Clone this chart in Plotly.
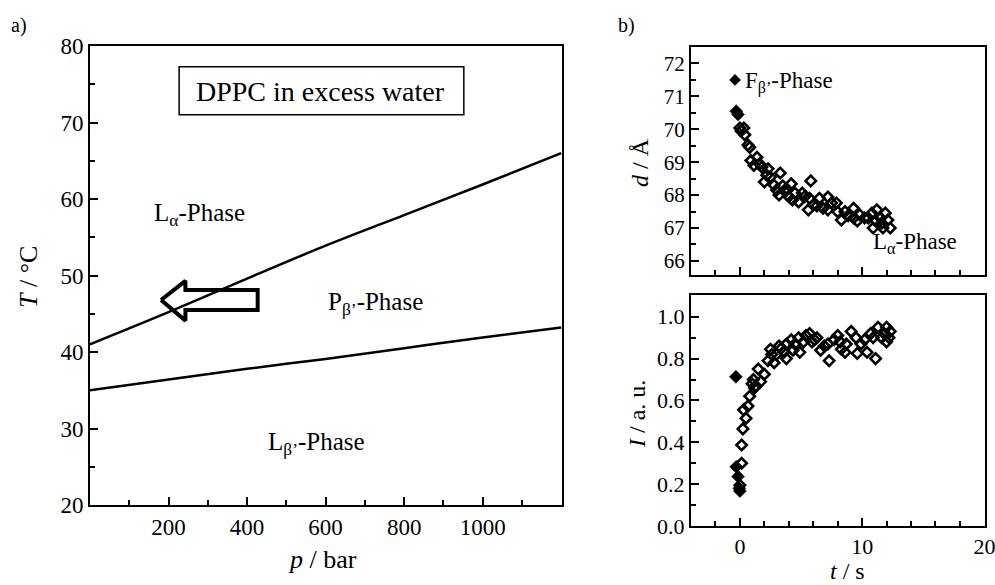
import plotly.graph_objects as go

# ---------- data ----------
# panel a: phase boundaries (p in bar, T in degC)
p_bound = [0, 200, 400, 600, 800, 1000, 1200]
T_upper = [41.0, 45.2, 49.6, 53.9, 57.9, 61.9, 66.0]
T_lower = [35.0, 36.4, 37.8, 39.1, 40.5, 41.9, 43.2]

# arrow outline (p, T)
arrow_p = [181, 243, 243, 427, 427, 243, 243, 181]
arrow_T = [46.8, 49.3, 48.1, 48.1, 45.5, 45.5, 44.1, 46.8]

# panel b (top): lamellar d-spacing
d_fill_t = [-0.3, -0.15]
d_fill_d = [70.55, 70.45]
d_open_t = [0.0, 0.33, 0.4, 0.1, 0.66, 0.8, 0.9, 1.4, 1.15, 1.8, 2.3, 3.3, 2.0, 2.5,
            2.8, 3.0, 3.5, 4.2, 4.0, 4.5, 5.1, 4.8, 5.7, 5.6, 5.8, 6.5, 6.3, 7.2, 7.5,
            7.2, 7.9, 8.0, 8.3, 8.85, 9.3, 9.3, 9.6, 9.8, 10.5, 10.8, 11.1, 11.2, 11.5,
            11.6, 11.9, 12.1, 11.7, 12.3, 10.9, 1.6, 2.2, 3.2, 3.7, 4.3, 5.3, 6.0, 6.8,
            8.6, 10.2, 3.8]
d_open_d = [70.04, 70.04, 69.83, 69.95, 69.52, 69.45, 69.05, 69.15, 68.9, 68.85, 68.8,
            68.67, 68.4, 68.55, 68.3, 68.15, 68.28, 68.34, 67.95, 68.06, 68.06, 67.79,
            67.9, 67.55, 68.43, 67.9, 67.67, 67.94, 67.76, 67.55, 67.76, 67.49, 67.24,
            67.37, 67.6, 67.3, 67.21, 67.4, 67.3, 67.45, 67.21, 67.55, 67.3, 67.15,
            67.45, 67.24, 67.0, 67.0, 67.0, 68.95, 68.6, 68.0, 68.1, 67.85, 67.95,
            67.7, 67.6, 67.5, 67.3, 68.2]
d_leg_t = [-0.4]
d_leg_d = [71.5]

# panel b (bottom): intensity
I_fill_t = [-0.33, -0.3, -0.15, 0.0, -0.05]
I_fill_I = [0.713, 0.283, 0.236, 0.167, 0.18]
I_open_t = [0.0, 0.14, 0.14, 0.25, 0.3, 0.5, 0.66, 0.8, 1.0, 1.2, 1.5, 1.7, 2.0, 2.3,
            2.5, 2.8, 3.0, 3.4, 3.8, 3.8, 4.35, 4.2, 4.8, 4.9, 5.4, 5.7, 5.9, 6.3, 6.6,
            7.2, 7.3, 7.7, 8.0, 8.3, 8.7, 8.6, 9.1, 9.5, 9.6, 10.2, 10.4, 10.7, 11.1,
            11.3, 11.6, 12.0, 12.2, 12.0, 1.1, 2.6, 3.2, 4.5, 5.2, 6.1, 6.9, 8.2, 9.9,
            10.9, 11.8, 12.3, 3.6, 1.3]
I_open_I = [0.195, 0.30, 0.387, 0.464, 0.555, 0.515, 0.573, 0.62, 0.68, 0.66, 0.75,
            0.69, 0.725, 0.79, 0.845, 0.78, 0.82, 0.85, 0.80, 0.87, 0.84, 0.89, 0.90,
            0.83, 0.91, 0.92, 0.88, 0.90, 0.84, 0.87, 0.79, 0.89, 0.91, 0.845, 0.87,
            0.83, 0.93, 0.90, 0.825, 0.89, 0.83, 0.92, 0.80, 0.95, 0.90, 0.95, 0.90,
            0.88, 0.70, 0.82, 0.86, 0.87, 0.88, 0.89, 0.86, 0.88, 0.87, 0.90, 0.92,
            0.93, 0.83, 0.67]

# tick labels
a_xticks = [200, 400, 600, 800, 1000]
a_yticks = [20, 30, 40, 50, 60, 70, 80]
b_xticks = [0, 10, 20]
b_dticks = [66, 67, 68, 69, 70, 71, 72]
b_Iticks = [0.0, 0.2, 0.4, 0.6, 0.8, 1.0]
b_Itext = ["0.0", "0.2", "0.4", "0.6", "0.8", "1.0"]

# ---------- figure ----------
W, H = 995, 585
FONT = "Liberation Serif, Times New Roman, serif"
fig = go.Figure()

fig.add_trace(go.Scatter(x=p_bound, y=T_upper, mode="lines",
                         line=dict(color="black", width=2.5, shape="spline"),
                         xaxis="x", yaxis="y"))
fig.add_trace(go.Scatter(x=p_bound, y=T_lower, mode="lines",
                         line=dict(color="black", width=2.5, shape="spline"),
                         xaxis="x", yaxis="y"))
fig.add_trace(go.Scatter(x=arrow_p, y=arrow_T, mode="lines",
                         line=dict(color="black", width=4), xaxis="x", yaxis="y"))

open_marker = dict(symbol="diamond-open", size=8, color="black",
                   line=dict(width=2.6, color="black"))
fill_marker = dict(symbol="diamond", size=10, color="black",
                   line=dict(width=0.5, color="black"))

fig.add_trace(go.Scatter(x=d_open_t, y=d_open_d, mode="markers", marker=open_marker,
                         xaxis="x2", yaxis="y2"))
fig.add_trace(go.Scatter(x=d_fill_t, y=d_fill_d, mode="markers", marker=fill_marker,
                         xaxis="x2", yaxis="y2"))
fig.add_trace(go.Scatter(x=d_leg_t, y=d_leg_d, mode="markers",
                         marker=dict(symbol="diamond", size=9, color="black"),
                         xaxis="x2", yaxis="y2"))
fig.add_trace(go.Scatter(x=I_open_t, y=I_open_I, mode="markers", marker=open_marker,
                         xaxis="x3", yaxis="y3"))
fig.add_trace(go.Scatter(x=I_fill_t, y=I_fill_I, mode="markers", marker=fill_marker,
                         xaxis="x3", yaxis="y3"))


def ax(domain, rng, tickvals, minor_dtick, tick0, size, anchor, labels=True,
       ticktext=None):
    d = dict(domain=domain, range=rng, anchor=anchor, showline=True,
             linecolor="black", linewidth=2, mirror=True, ticks="inside", ticklen=8,
             tickwidth=1.5, tickcolor="black", tickmode="array", tickvals=tickvals,
             showgrid=False, zeroline=False, showticklabels=labels, automargin=False,
             ticklabeloverflow="allow",
             tickfont=dict(family=FONT, size=size, color="black"),
             minor=dict(ticks="inside", ticklen=5, tickwidth=1.5, tickcolor="black",
                        dtick=minor_dtick, tick0=tick0, showgrid=False),
             fixedrange=True)
    if ticktext is not None:
        d["ticktext"] = ticktext
    return d


def px(v):
    return v / W


def py(v):
    return 1 - v / H


fig.update_layout(
    template="none",
    width=W, height=H, margin=dict(l=0, r=0, t=0, b=0, pad=0, autoexpand=False),
    paper_bgcolor="white", plot_bgcolor="white", showlegend=False,
    xaxis=ax([px(90), px(562)], [0, 1202], a_xticks, 100, 0, 23, "y"),
    yaxis=ax([py(505), py(46)], [20, 80], a_yticks, 5, 20, 23, "x"),
    xaxis2=ax([px(691), px(985)], [-4, 20.05], b_xticks, 2, 0, 21, "y2", labels=False),
    yaxis2=ax([py(275), py(47)], [65.57, 72.5], b_dticks, 0.5, 66, 21, "x2"),
    xaxis3=ax([px(691), px(985)], [-4, 20.05], b_xticks, 2, 0, 22, "y3"),
    yaxis3=ax([py(526), py(295)], [0, 1.104], b_Iticks, 0.1, 0, 22, "x3",
              ticktext=b_Itext),
)

# box around DPPC label
fig.add_shape(type="rect", xref="x", yref="y", x0=227, x1=952, y0=71.0, y1=77.28,
              line=dict(color="black", width=1.5), fillcolor="rgba(0,0,0,0)")

annots = []


def txt(x, y, text, size, xref="paper", yref="paper", xanchor="center", angle=0):
    annots.append(dict(x=x, y=y, xref=xref, yref=yref, text=text, showarrow=False,
                       xanchor=xanchor, yanchor="middle", textangle=angle,
                       font=dict(family=FONT, size=size, color="black")))


txt(588, 74.1, "DPPC in excess water", 28, "x", "y")
txt(278, 58.0, "L<sub>α</sub>-Phase", 25, "x", "y")
txt(728, 46.4, "P<sub>β’</sub>-Phase", 25, "x", "y")
txt(578, 28.0, "L<sub>β’</sub>-Phase", 25, "x", "y")
txt(0.25, 71.42, "F<sub>β’</sub>-Phase", 23, "x2", "y2", xanchor="left")
txt(14.3, 66.55, "L<sub>α</sub>-Phase", 23, "x2", "y2")

txt(px(19), py(26), "a)", 20)
txt(px(626), py(26), "b)", 20)
txt(px(28), py(277), "<i>T</i> / °C", 26, angle=-90)
txt(px(322), py(559), "<i>p</i> / bar", 26)
txt(px(640), py(163), "<i>d</i> / Å", 24, angle=-90)
txt(px(637), py(414), "<i>I</i> / a. u.", 24, angle=-90)
txt(px(847), py(571), "<i>t</i> / s", 24)

fig.update_layout(annotations=annots)
fig.write_html("out.html", config={"displayModeBar": False},
               post_script="document.body.style.margin='0';"
                           "document.documentElement.style.overflow='hidden';")
